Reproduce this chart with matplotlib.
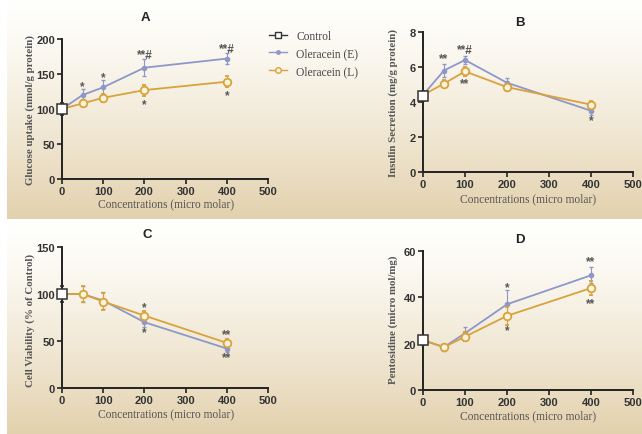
import numpy as np
import matplotlib
matplotlib.use("Agg")
import matplotlib.pyplot as plt
from matplotlib.lines import Line2D

# ---------------- data ----------------
conc = [0, 50, 100, 200, 400]

# A: Glucose uptake
a_ctrl = 100
a_e = [100, 120, 131, 159, 172]
a_e_err = [0, 8, 10, 12, 8]
a_l = [100, 108, 116, 127, 139]
a_l_err = [0, 5, 6, 8, 8]
a_ctrl_err = 8

# B: Insulin secretion
b_ctrl = 4.35
b_e = [4.4, 5.8, 6.4, 5.1, 3.5]
b_e_err = [0, 0.35, 0.25, 0.3, 0.25]
b_l = [4.4, 5.05, 5.75, 4.85, 3.85]
b_l_err = [0, 0.2, 0.25, 0.2, 0.2]
b_ctrl_err = 0.3

# C: Cell viability
c_ctrl = 100
c_e = [100, 100, 93, 70, 42]
c_e_err = [0, 9, 9, 5, 4]
c_l = [100, 100, 92, 77, 48]
c_l_err = [0, 9, 9, 5, 4]
c_ctrl_err = 9

# D: Pentosidine
d_ctrl = 21.5
d_e = [21.5, 18.5, 24.5, 37, 49.5]
d_e_err = [0, 1.5, 2.5, 6, 3.5]
d_l = [21.5, 18.5, 23, 32, 44]
d_l_err = [0, 1.5, 2, 4, 3]
d_ctrl_err = 2

titles = ["A", "B", "C", "D"]
ylabels = ["Glucose uptake (nmol/g protein)", "Insulin Secretion (mg/g protein)",
           "Cell Viability (% of Control)", "Pentosidine (micro mol/mg)"]
xlabel = "Concentrations (micro molar)"
legend_labels = ["Control", "Oleracein (E)", "Oleracein (L)"]

# annotations: (x, y, text)
a_ann = [(50, 132, "*"), (100, 146, "*"), (200, 177, "**#"), (400, 186, "**#"),
         (200, 107, "*"), (400, 120, "*")]
b_ann = [(50, 6.5, "**"), (100, 7.0, "**#"), (100, 5.1, "**"), (400, 2.95, "*")]
c_ann = [(200, 86, "*"), (200, 59, "*"), (400, 57, "**"), (400, 33, "**")]
d_ann = [(200, 44.5, "*"), (200, 26, "*"), (400, 55.5, "**"), (400, 37.5, "**")]

# ---------------- style ----------------
E_COL = "#8e97c9"
L_COL = "#d8a23c"
TXT = "#555555"
SERIF = ["Liberation Serif", "DejaVu Serif"]
SANS = ["Liberation Sans", "DejaVu Sans"]

W, H = 642, 435
fig = plt.figure(figsize=(W / 100, H / 100), dpi=100)

# background gradient boxes
bg = fig.add_axes([0, 0, 1, 1])
bg.set_xlim(0, W)
bg.set_ylim(H, 0)
bg.axis("off")
img = np.ones((H, W, 3))
tan = np.array([0.89, 0.82, 0.68])
white = np.array([1.0, 1.0, 0.99])
def box(y0, y1, x0, x1):
    n = y1 - y0
    t = np.linspace(0, 1, n) ** 1.3
    cols = white[None, :] * (1 - t[:, None]) + tan[None, :] * t[:, None]
    img[y0:y1, x0:x1, :] = cols[:, None, :]
box(0, 220, 7, W)
box(224, H, 7, W)
bg.imshow(img, extent=(0, W, H, 0), aspect="auto", zorder=0)

def fx(px):
    return px / W
def fy(py):
    return 1 - py / H

panels = [
    dict(pos=[62, 180, 268, 40], ylim=(0, 200), yt=[0, 50, 100, 150, 200],
         ctrl=a_ctrl, ce=a_ctrl_err, e=a_e, ee=a_e_err, l=a_l, le=a_l_err, ann=a_ann,
         title_xy=(145, 18), xl_xy=(166, 204), yl_xy=(30, 110)),
    dict(pos=[423, 173, 633, 33], ylim=(0, 8), yt=[0, 2, 4, 6, 8],
         ctrl=b_ctrl, ce=b_ctrl_err, e=b_e, ee=b_e_err, l=b_l, le=b_l_err, ann=b_ann,
         title_xy=(520, 23), xl_xy=(528, 199), yl_xy=(393, 103)),
    dict(pos=[62, 389, 268, 248], ylim=(0, 150), yt=[0, 50, 100, 150],
         ctrl=c_ctrl, ce=c_ctrl_err, e=c_e, ee=c_e_err, l=c_l, le=c_l_err, ann=c_ann,
         title_xy=(147, 235), xl_xy=(166, 414), yl_xy=(30, 320)),
    dict(pos=[423, 391, 633, 252], ylim=(0, 60), yt=[0, 20, 40, 60],
         ctrl=d_ctrl, ce=d_ctrl_err, e=d_e, ee=d_e_err, l=d_l, le=d_l_err, ann=d_ann,
         title_xy=(520, 240), xl_xy=(528, 416), yl_xy=(393, 320)),
]

for i, p in enumerate(panels):
    x0, yb, x1, yt_ = p["pos"]
    ax = fig.add_axes([fx(x0), fy(yb), fx(x1) - fx(x0), fy(yt_) - fy(yb)])
    ax.patch.set_alpha(0)
    ax.set_xlim(0, 500)
    ax.set_ylim(*p["ylim"])
    ax.set_xticks([0, 100, 200, 300, 400, 500])
    ax.set_yticks(p["yt"])
    for s in ["top", "right"]:
        ax.spines[s].set_visible(False)
    for s in ["left", "bottom"]:
        ax.spines[s].set_linewidth(1.4)
        ax.spines[s].set_color("#222222")
    ax.tick_params(direction="out", length=3.5, width=1.2, colors="#222222",
                   labelsize=8, pad=1.5)
    for lab in ax.get_xticklabels() + ax.get_yticklabels():
        lab.set_fontfamily(SANS)
        lab.set_fontweight("bold")
        lab.set_color("#333333")

    ax.errorbar(conc, p["e"], yerr=p["ee"], color=E_COL, lw=1.3, marker="o",
                ms=3, mfc=E_COL, mec=E_COL, capsize=1.5, elinewidth=0.8,
                clip_on=False, zorder=3)
    ax.errorbar(conc, p["l"], yerr=p["le"], color=L_COL, lw=1.3, marker="o",
                ms=5.5, mfc="#fbf3dc", mec=L_COL, mew=1.3, capsize=1.5,
                elinewidth=0.8, clip_on=False, zorder=4)
    ax.errorbar([0], [p["ctrl"]], yerr=[p["ce"]], color="#222222", marker="s",
                ms=6.5, mfc="white", mec="#333333", mew=1.1, capsize=1.5,
                elinewidth=0.8, clip_on=False, zorder=5, ls="none")
    for (xx, yy, tt) in p["ann"]:
        ax.text(xx, yy, tt, ha="center", va="center", fontsize=8.5,
                fontweight="bold", color="#555555", family=SANS, zorder=6)

    fig.text(fx(p["title_xy"][0]), fy(p["title_xy"][1]), titles[i],
             ha="center", va="center", fontsize=9.5, fontweight="bold",
             family=SANS, color="#222222")
    fig.text(fx(p["xl_xy"][0]), fy(p["xl_xy"][1]), xlabel, ha="center",
             va="center", fontsize=8.3, family=SERIF, color=TXT)
    fig.text(fx(p["yl_xy"][0]), fy(p["yl_xy"][1]), ylabels[i], ha="center",
             va="center", rotation=90, fontsize=7.8, family=SERIF,
             color=TXT, fontweight="bold")

# legend
handles = [
    Line2D([0], [0], color="#333333", lw=1.0, marker="s", ms=5, mfc="white", mec="#333333"),
    Line2D([0], [0], color=E_COL, lw=1.0, marker="o", ms=2.5, mfc=E_COL, mec=E_COL),
    Line2D([0], [0], color=L_COL, lw=1.0, marker="o", ms=4, mfc="#fbf3dc", mec=L_COL),
]
leg = fig.legend(handles, legend_labels, loc="upper left",
                 bbox_to_anchor=(fx(264), fy(26)), frameon=False,
                 prop={"family": SERIF, "size": 8.3}, handlelength=1.6,
                 handletextpad=0.8, labelspacing=0.5, borderaxespad=0)
for t in leg.get_texts():
    t.set_color("#444444")

fig.savefig("out.png", dpi=100)
